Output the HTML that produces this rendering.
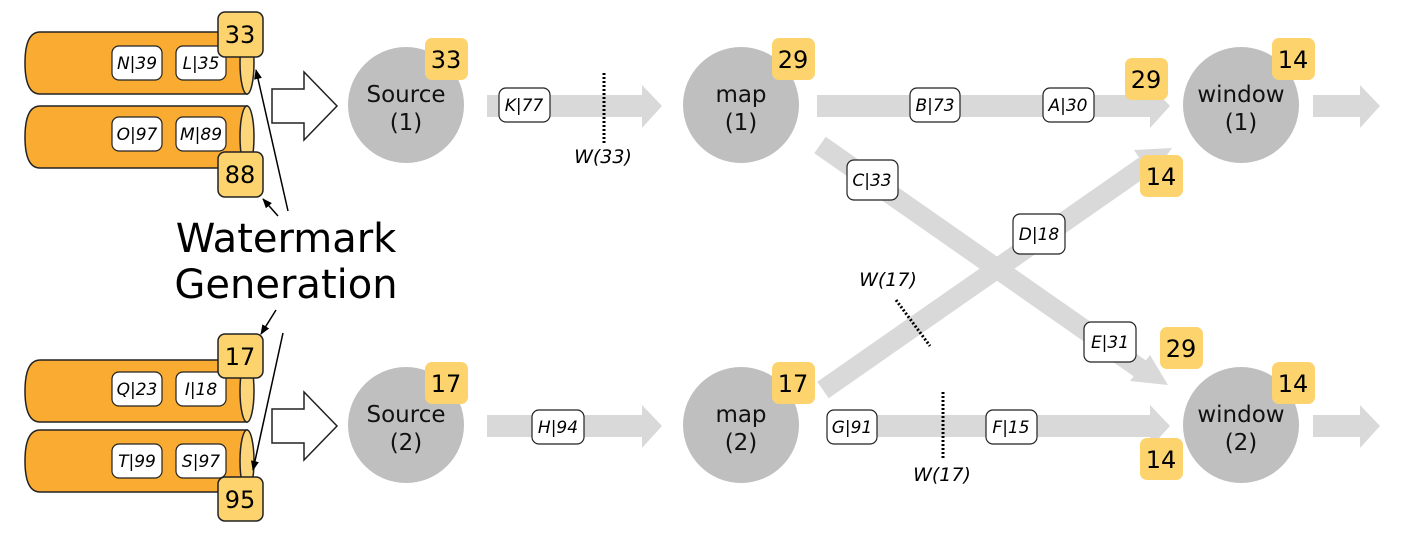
<!DOCTYPE html>
<html><head><meta charset="utf-8"><style>
html,body{margin:0;padding:0;background:#fff;}
svg{display:block;}
text{font-family:"DejaVu Sans","Liberation Sans",sans-serif;}
.tk{font-style:italic;font-size:17px;text-anchor:middle;}
.bd{font-size:24px;text-anchor:middle;}
.nd{font-size:23px;text-anchor:middle;fill:#111;}
</style></head><body>
<svg width="1406" height="534" viewBox="0 0 1406 534" xmlns="http://www.w3.org/2000/svg">
<defs>
<marker id="ah" markerWidth="10" markerHeight="8" refX="9" refY="4" orient="auto" markerUnits="userSpaceOnUse"><path d="M0,0 L10,4 L0,8 z" fill="#000"/></marker>
</defs>
<!-- cylinders -->
<g stroke="#222" stroke-width="1.5">
<path d="M40,32 H247 V94 H40 Q25,94 25,63 Q25,32 40,32 Z" fill="#f9ab32"/>
<ellipse cx="247" cy="63" rx="7" ry="31" fill="#fdd57a"/>
<path d="M40,106 H247 V168 H40 Q25,168 25,137 Q25,106 40,106 Z" fill="#f9ab32"/>
<ellipse cx="247" cy="137" rx="7" ry="31" fill="#fdd57a"/>
<path d="M40,360 H247 V422 H40 Q25,422 25,391 Q25,360 40,360 Z" fill="#f9ab32"/>
<ellipse cx="247" cy="391" rx="7" ry="31" fill="#fdd57a"/>
<path d="M40,430 H247 V492 H40 Q25,492 25,461 Q25,430 40,430 Z" fill="#f9ab32"/>
<ellipse cx="247" cy="461" rx="7" ry="31" fill="#fdd57a"/>
</g>
<!-- tokens -->
<g fill="#fff" stroke="#222" stroke-width="1.2">
<rect x="112" y="46" width="50" height="34" rx="7"/><rect x="176" y="46" width="50" height="34" rx="7"/>
<rect x="112" y="117" width="50" height="34" rx="7"/><rect x="176" y="117" width="50" height="34" rx="7"/>
<rect x="112" y="372" width="50" height="34" rx="7"/><rect x="176" y="372" width="50" height="34" rx="7"/>
<rect x="112" y="444" width="50" height="34" rx="7"/><rect x="176" y="444" width="50" height="34" rx="7"/>
</g>
<g class="tk">
<text x="137" y="69">N|39</text><text x="201" y="69">L|35</text>
<text x="137" y="140">O|97</text><text x="201" y="140">M|89</text>
<text x="137" y="395">Q|23</text><text x="201" y="395">I|18</text>
<text x="137" y="467">T|99</text><text x="201" y="467">S|97</text>
</g>
<!-- bordered badges -->
<g fill="#fdd36d" stroke="#222" stroke-width="1.5">
<rect x="218" y="12" width="45" height="45" rx="7"/><rect x="218" y="152" width="45" height="45" rx="7"/>
<rect x="218" y="334" width="45" height="44" rx="7"/><rect x="218" y="477" width="45" height="44" rx="7"/>
</g>
<g class="bd"><text x="240" y="43">33</text><text x="240" y="183">88</text><text x="240" y="365">17</text><text x="240" y="508">95</text></g>
<!-- watermark gen -->
<text x="286" y="252" font-size="40" text-anchor="middle" font-family="Liberation Sans,sans-serif">Watermark</text>
<text x="286" y="298" font-size="40" text-anchor="middle" font-family="Liberation Sans,sans-serif">Generation</text>
<g stroke="#000" stroke-width="1.5" fill="none">
<line x1="288" y1="211" x2="256" y2="70" marker-end="url(#ah)"/>
<line x1="278" y1="216" x2="263" y2="199" marker-end="url(#ah)"/>
<line x1="276" y1="310" x2="261" y2="334" marker-end="url(#ah)"/>
<line x1="283" y1="333" x2="253" y2="470" marker-end="url(#ah)"/>
</g>
<!-- hollow arrows -->
<g fill="#fff" stroke="#222" stroke-width="1.5">
<path d="M272,89 H304 V72 L337,106 L304,140 V123 H272 Z"/>
<path d="M272,409 H304 V392 L337,426 L304,460 V443 H272 Z"/>
</g>
<!-- gray arrows -->
<g fill="#d9d9d9">
<path d="M487,95 H642 V85 L662,106 L642,128 V117 H487 Z"/>
<path d="M817,95 H1150 V85 L1170,106 L1150,128 V117 H817 Z"/>
<path d="M1313,95 H1360 V85 L1380,106 L1360,128 V117 H1313 Z"/>
<path d="M487,415 H642 V405 L662,426 L642,448 V437 H487 Z"/>
<path d="M827,415 H1150 V405 L1170,426 L1150,448 V437 H827 Z"/>
<path d="M1313,415 H1360 V405 L1380,426 L1360,448 V437 H1313 Z"/>
</g>
<g stroke="#d9d9d9" stroke-width="20" fill="none">
<line x1="820" y1="145" x2="1145" y2="372"/>
<line x1="823" y1="390" x2="1150" y2="162"/>
</g>
<g fill="#d9d9d9">
<path d="M1168,385 L1130,381 L1150,355 Z"/>
<path d="M1172,148 L1134,150 L1152,176 Z"/>
</g>
<!-- circles -->
<g fill="#bfbfbf">
<circle cx="406" cy="105" r="58"/><circle cx="741" cy="105" r="58"/><circle cx="1241" cy="105" r="58"/>
<circle cx="406" cy="425" r="58"/><circle cx="741" cy="425" r="58"/><circle cx="1241" cy="425" r="58"/>
</g>
<g class="nd">
<text x="406" y="102">Source</text><text x="406" y="130">(1)</text>
<text x="741" y="102">map</text><text x="741" y="130">(1)</text>
<text x="1241" y="102">window</text><text x="1241" y="130">(1)</text>
<text x="406" y="422">Source</text><text x="406" y="450">(2)</text>
<text x="741" y="422">map</text><text x="741" y="450">(2)</text>
<text x="1241" y="422">window</text><text x="1241" y="450">(2)</text>
</g>
<!-- plain badges -->
<g fill="#fdd36d">
<rect x="425" y="38" width="43" height="42" rx="7"/><rect x="772" y="38" width="43" height="42" rx="7"/>
<rect x="1272" y="38" width="43" height="42" rx="7"/><rect x="1125" y="58" width="43" height="42" rx="7"/>
<rect x="1140" y="155" width="43" height="42" rx="7"/><rect x="1160" y="327" width="43" height="42" rx="7"/>
<rect x="425" y="362" width="43" height="42" rx="7"/><rect x="772" y="362" width="43" height="42" rx="7"/>
<rect x="1272" y="362" width="43" height="42" rx="7"/><rect x="1140" y="438" width="43" height="42" rx="7"/>
</g>
<g class="bd">
<text x="446" y="68">33</text><text x="793" y="68">29</text><text x="1293" y="68">14</text><text x="1146" y="88">29</text>
<text x="1161" y="185">14</text><text x="1181" y="357">29</text>
<text x="446" y="392">17</text><text x="793" y="392">17</text><text x="1293" y="392">14</text><text x="1161" y="468">14</text>
</g>
<!-- flow tokens -->
<g fill="#fff" stroke="#222" stroke-width="1.2">
<rect x="499" y="88" width="51" height="34" rx="7"/>
<rect x="910" y="88" width="50" height="34" rx="7"/><rect x="1043" y="88" width="51" height="34" rx="7"/>
<rect x="847" y="160" width="51" height="40" rx="7"/><rect x="1013" y="214" width="52" height="40" rx="7"/>
<rect x="1084" y="322" width="52" height="40" rx="7"/>
<rect x="532" y="410" width="52" height="34" rx="7"/>
<rect x="827" y="410" width="50" height="34" rx="7"/><rect x="986" y="410" width="51" height="34" rx="7"/>
</g>
<g class="tk">
<text x="524" y="111">K|77</text><text x="935" y="111">B|73</text><text x="1068" y="111">A|30</text>
<text x="872" y="186">C|33</text><text x="1039" y="240">D|18</text><text x="1110" y="348">E|31</text>
<text x="558" y="433">H|94</text><text x="852" y="433">G|91</text><text x="1011" y="433">F|15</text>
</g>
<!-- watermarks -->
<g stroke="#000" stroke-width="3" stroke-dasharray="2,2">
<line x1="604" y1="73" x2="604" y2="143"/>
<line x1="943" y1="392" x2="943" y2="460"/>
<line x1="896" y1="300" x2="930" y2="346"/>
</g>
<g class="tk" font-size="19">
<text x="603" y="163" font-size="19">W(33)</text>
<text x="942" y="481" font-size="19">W(17)</text>
<text x="888" y="286" font-size="19">W(17)</text>
</g>
</svg>
</body></html>
